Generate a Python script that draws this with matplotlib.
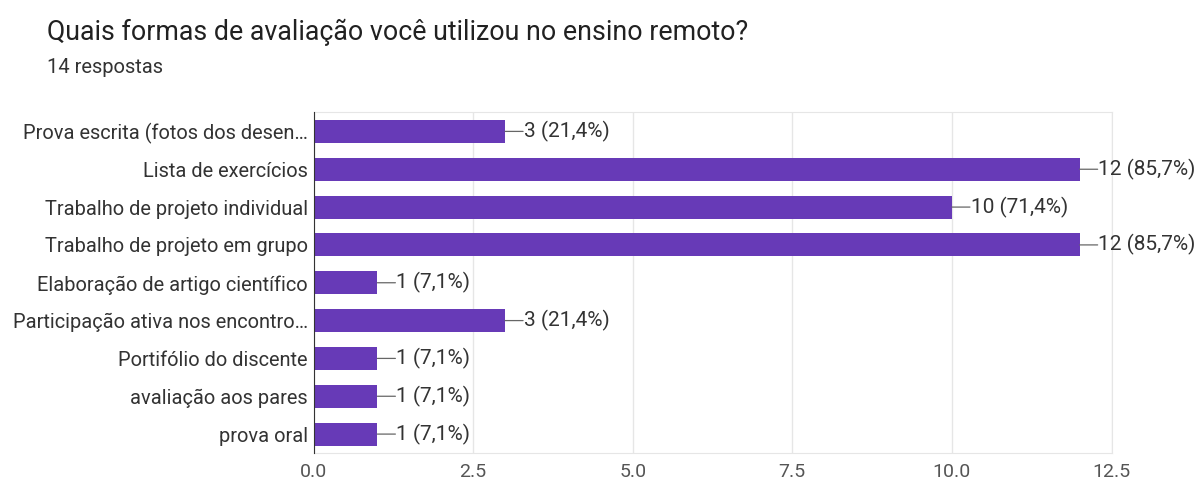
import matplotlib.pyplot as plt

plt.rcParams['font.family'] = ['Roboto', 'DejaVu Sans']

# Data
categories = [
    'Prova escrita (fotos dos desen…',
    'Lista de exercícios',
    'Trabalho de projeto individual',
    'Trabalho de projeto em grupo',
    'Elaboração de artigo científico',
    'Participação ativa nos encontro…',
    'Portifólio do discente',
    'avaliação aos pares',
    'prova oral',
]
counts = [3, 12, 10, 12, 1, 3, 1, 1, 1]
total = 14
xticks = [0.0, 2.5, 5.0, 7.5, 10.0, 12.5]

fig = plt.figure(figsize=(12, 4.83), dpi=100)
ax = fig.add_axes([0.26125, 0.0621, 0.665, 0.705])

y = list(range(len(categories)))
ax.barh(y, counts, height=0.61, color='#673ab7', zorder=3)

# value labels with short connector line
for yi, c in zip(y, counts):
    pct = c / total * 100
    label = f'{c} ({pct:.1f}%)'.replace('.', ',')
    ax.annotate('', xy=(c, yi), xytext=(13, 0), textcoords='offset points',
                annotation_clip=False,
                arrowprops=dict(arrowstyle='-', color='#666666', lw=0.9,
                                shrinkA=0, shrinkB=0))
    ax.annotate(label, xy=(c, yi), xytext=(13.5, 0), textcoords='offset points',
                va='center', ha='left', fontsize=15, color='#333333',
                annotation_clip=False)

ax.set_yticks(y)
ax.set_yticklabels(categories, fontsize=14.4, color='#333333')
ax.set_xticks(xticks)
ax.set_xticklabels([f'{t:.1f}' for t in xticks], fontsize=14, color='#555555')
ax.set_xlim(0, 12.5)
ax.set_ylim(8.5, -0.5)

ax.grid(axis='x', color='#e6e6e6', lw=1, zorder=0)
for s in ['top', 'right', 'bottom']:
    ax.spines[s].set_color('#e6e6e6')
ax.spines['left'].set_color('#333333')
ax.spines['left'].set_zorder(4)
ax.tick_params(axis='both', length=0, pad=4)
ax.tick_params(axis='x', pad=7)

fig.text(0.039, 0.917, 'Quais formas de avaliação você utilizou no ensino remoto?',
         fontsize=19.3, color='#212121', va='baseline')
fig.text(0.039, 0.849, '14 respostas', fontsize=14.5, color='#333333', va='baseline')

fig.savefig('out.png', dpi=100)
